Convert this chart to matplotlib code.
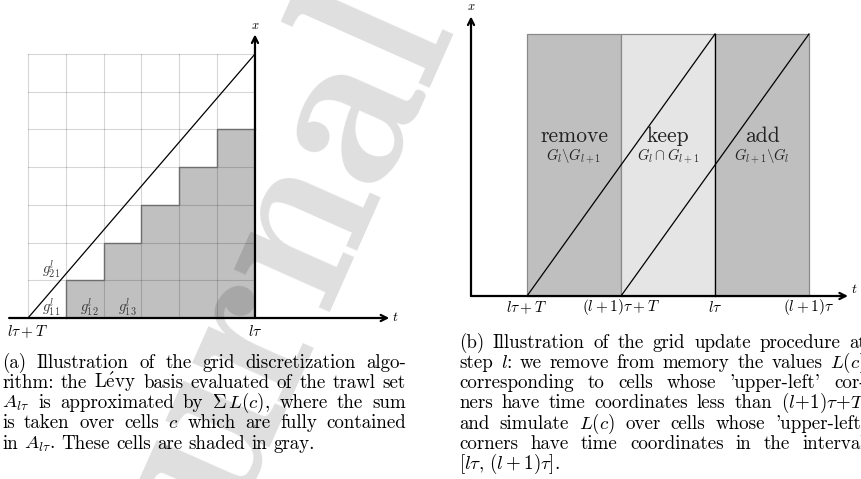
import numpy as np
import matplotlib.pyplot as plt
from matplotlib.patches import Rectangle

plt.rcParams["mathtext.fontset"] = "cm"
plt.rcParams["axes.unicode_minus"] = False

W, H = 861, 479
SERIF = ["cmr10", "DejaVu Serif"]

# ---- (a) grid discretization ----
n_cols = 6
n_rows = 7
stair_heights = [0, 1, 2, 3, 4, 5]          # shaded cells per column
g_labels = [r"$g^l_{11}$", r"$g^l_{12}$", r"$g^l_{13}$", r"$g^l_{21}$"]
g_cells = [(0, 0), (1, 0), (2, 0), (0, 1)]   # (column, row)
left_ticks = [0, 6]
left_ticklabels = [r"$l\tau+T$", r"$l\tau$"]

# ---- (b) grid update ----
t_edges = [1, 2, 3, 4]
t_labels = [r"$l\tau+T$", r"$(l+1)\tau+T$", r"$l\tau$", r"$(l+1)\tau$"]
region_names = ["remove", "keep", "add"]
region_sets = [r"$G_l\backslash G_{l+1}$", r"$G_l\cap G_{l+1}$", r"$G_{l+1}\backslash G_l$"]
region_colors = ["#bfbfbf", "#e5e5e5", "#bfbfbf"]

caption_a = [
    "(a) Illustration of the grid discretization algo-",
    r"rithm: the L$\acute{\mathrm{e}}$vy basis evaluated of the trawl set",
    r"$A_{l\tau}$ is approximated by $\Sigma\,L(c)$, where the sum",
    r"is taken over cells $c$ which are fully contained",
    r"in $A_{l\tau}$. These cells are shaded in gray.",
]
caption_b = [
    "(b) Illustration of the grid update procedure at",
    r"step $l$: we remove from memory the values $L(c)$",
    "corresponding to cells whose 'upper-left' cor-",
    r"ners have time coordinates less than $(l\!+\!1)\tau\!+\!T$",
    r"and simulate $L(c)$ over cells whose 'upper-left'",
    "corners have time coordinates in the interval",
    r"$[l\tau,\,(l+1)\tau]$.",
]

fig = plt.figure(figsize=(W / 100, H / 100), dpi=100)
renderer = fig.canvas.get_renderer()


def px_axes(x0, y0, x1, y1):
    return fig.add_axes([x0 / W, 1 - y1 / H, (x1 - x0) / W, (y1 - y0) / H])


def arrow(ax, p0, p1):
    ax.annotate("", xy=p1, xytext=p0,
                arrowprops=dict(arrowstyle="->", lw=1.6, color="black",
                                shrinkA=0, shrinkB=0, mutation_scale=11),
                annotation_clip=False)


def text_w(s, fs, family):
    t = fig.text(0, 0, s, fontsize=fs, family=family)
    w = t.get_window_extent(renderer).width
    t.remove()
    return w


# left panel
axL = px_axes(0, 0, 430, 340)
ux, uy = 37.83, 37.71
axL.set_xlim(-28 / ux, (430 - 28) / ux)
axL.set_ylim((318 - 340) / uy, 318 / uy)
axL.axis("off")

axL.bar(range(n_cols), stair_heights, width=1, align="edge",
        color="#c0c0c0", edgecolor="none", zorder=1)
for i in range(n_cols + 1):
    axL.plot([i, i], [0, n_rows], color="black", alpha=0.16, lw=0.8, zorder=2)
for j in range(n_rows + 1):
    axL.plot([0, n_cols], [j, j], color="black", alpha=0.16, lw=0.8, zorder=2)

xs, ys = [1], [0]
for c in range(1, n_cols):
    xs += [c, c + 1]
    ys += [stair_heights[c], stair_heights[c]]
axL.plot(xs, ys, color="#6e6e6e", lw=1.0, zorder=3)
axL.plot([0, n_cols], [0, n_rows], color="black", lw=0.9, zorder=4)

arrow(axL, (-0.5, 0), (9.55, 0))
arrow(axL, (n_cols, 0), (n_cols, 7.52))
axL.text(n_cols, 7.75, "$x$", ha="center", va="center", fontsize=9)
axL.text(9.72, 0.02, "$t$", ha="center", va="center", fontsize=10)
for tk, lab in zip(left_ticks, left_ticklabels):
    axL.text(tk, -0.35, lab, ha="center", va="center", fontsize=11)
for (c, r), lab in zip(g_cells, g_labels):
    axL.text(c + 0.62, r + 0.3, lab, ha="center", va="center",
             fontsize=10.5, color="#3a3a3a", zorder=5)

# right panel
axR = px_axes(430, 0, 861, 320)
ux2, uy2 = 94.0, 262.0
axR.set_xlim(1 + (430 - 527) / ux2, 1 + (861 - 527) / ux2)
axR.set_ylim((296 - 320) / uy2, 296 / uy2)
axR.axis("off")

for i in range(3):
    axR.add_patch(Rectangle((t_edges[i], 0), t_edges[i + 1] - t_edges[i], 1,
                            facecolor=region_colors[i], edgecolor="#8a8a8a",
                            lw=0.9, zorder=1))
    xc = (t_edges[i] + t_edges[i + 1]) / 2
    axR.text(xc, 0.61, region_names[i], ha="center", va="center",
             fontsize=15.5, family=SERIF, color="#222222", zorder=5)
    axR.text(xc, 0.535, region_sets[i], ha="center", va="center",
             fontsize=10.5, color="#222222", zorder=5)
axR.plot([t_edges[2], t_edges[2]], [0, 1], color="black", lw=0.9, zorder=2)
axR.plot([t_edges[0], t_edges[2]], [0, 1], color="black", lw=0.9, zorder=3)
axR.plot([t_edges[1], t_edges[3]], [0, 1], color="black", lw=0.9, zorder=3)

y_axis_x = 1 + (471 - 527) / ux2
arrow(axR, (y_axis_x, 0), (1 + (848 - 527) / ux2, 0))
arrow(axR, (y_axis_x, 0), (y_axis_x, 1.067))
axR.text(y_axis_x, 1.105, "$x$", ha="center", va="center", fontsize=9)
axR.text(1 + (854 - 527) / ux2, 0.025, "$t$", ha="center", va="center", fontsize=10)
for tk, lab in zip(t_edges, t_labels):
    axR.text(tk, -0.043, lab, ha="center", va="center", fontsize=11)

# captions, justified line by line; size set so "Illustration" is ~92 px wide
cap_fs = 10 * 92 / text_w("Illustration", 10, SERIF)


def caption(lines, x0, x1, y0, step, fs):
    for k, line in enumerate(lines):
        words = line.split(" ")
        y = 1 - (y0 + k * step) / H
        arts = [fig.text(0, y, w, fontsize=fs, family=SERIF, ha="left", va="baseline")
                for w in words]
        widths = [a.get_window_extent(renderer).width for a in arts]
        if k == len(lines) - 1:
            gap = fs * 100 / 72 * 0.333
        else:
            gap = (x1 - x0 - sum(widths)) / (len(words) - 1)
        x = x0
        for a, w in zip(arts, widths):
            a.set_x(x / W)
            x += w + gap


caption(caption_a, 2, 406, 367.5, 20.3, cap_fs)
caption(caption_b, 459, 866, 347.5, 20.3, cap_fs)

# watermark: sized from the n->a spacing, 'a' centred near (358, 124)
wm_font = "cmb10"
wm_rot = 66
wm_fs = 100 * 245 / text_w("na", 100, wm_font)
along = text_w("Journ", wm_fs, wm_font) + text_w("a", wm_fs, wm_font) / 2
up = 0.22 * wm_fs * 100 / 72
th = np.radians(wm_rot)
cx, cy = 358, H - 124
sx = cx - along * np.cos(th) + up * np.sin(th)
sy = cy - along * np.sin(th) - up * np.cos(th)
fig.text(sx / W, sy / H, "Journal", fontsize=wm_fs, family=wm_font,
         color="black", alpha=0.13, rotation=wm_rot, rotation_mode="anchor",
         ha="left", va="baseline", zorder=10)

fig.savefig("out.png", dpi=100)
